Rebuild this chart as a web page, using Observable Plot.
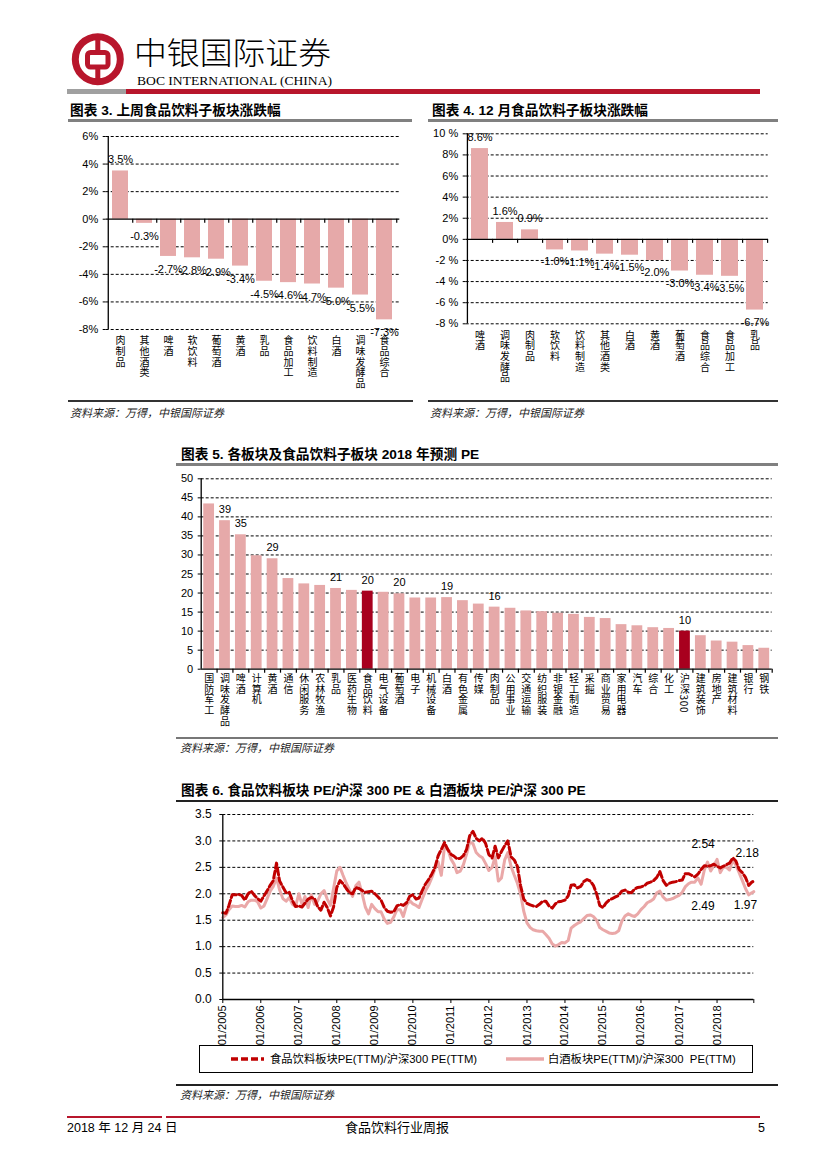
<!DOCTYPE html>
<html><head><meta charset="utf-8">
<script src="https://cdn.jsdelivr.net/npm/d3@7"></script>
<script src="https://cdn.jsdelivr.net/npm/@observablehq/plot@0.6"></script>
<style>
body{margin:0;background:#fff;}
#page{position:relative;width:827px;height:1169px;overflow:hidden;background:#fff;font-family:"Noto Sans CJK SC",sans-serif;color:#000;}
.abs{position:absolute;}
.title{font-family:"Liberation Sans","Noto Sans CJK SC",sans-serif;font-size:13.7px;font-weight:700;white-space:nowrap;line-height:17px;}
.src{font-family:"Noto Sans CJK SC",sans-serif;font-size:11px;font-style:italic;color:#222;white-space:nowrap;line-height:14px;}
.lg{font-family:"Liberation Sans Narrow","Liberation Sans","Noto Sans CJK SC",sans-serif;font-size:11.3px;white-space:nowrap;line-height:14px;}
.ft{font-family:"Liberation Sans","Noto Sans CJK SC",sans-serif;font-size:12.5px;white-space:nowrap;line-height:16px;}
</style></head>
<body>
<div id="page">
  <svg class="abs" style="left:0;top:0" width="827" height="100">
    <circle cx="97.8" cy="59.2" r="22.5" fill="none" stroke="#b8162c" stroke-width="7"/>
    <rect x="87.5" y="52.5" width="20.5" height="14.5" rx="3" fill="none" stroke="#b8162c" stroke-width="5"/>
    <rect x="95.3" y="36" width="5" height="17" fill="#b8162c"/>
    <rect x="95.3" y="66" width="5" height="17" fill="#b8162c"/>
    <text x="134" y="64" font-size="31" font-family="Noto Sans CJK SC" font-weight="300" textLength="197" lengthAdjust="spacingAndGlyphs">中银国际证券</text>
    <text x="137" y="85" font-size="13.5" font-family="Liberation Serif" textLength="195" lengthAdjust="spacingAndGlyphs">BOC INTERNATIONAL (CHINA)</text>
    <rect x="67" y="89" width="59" height="5" fill="#a0a0a0"/>
    <rect x="126" y="89" width="634" height="5" fill="#b8162c"/>
  </svg>

  <div class="abs title" style="left:70px;top:101.5px">图表 3. 上周食品饮料子板块涨跌幅</div>
  <div class="abs" style="left:68px;top:119px;width:344px;height:2.5px;background:#808080"></div>
  <div class="abs title" style="left:432px;top:101.5px">图表 4. 12 月食品饮料子板块涨跌幅</div>
  <div class="abs" style="left:428px;top:119px;width:350px;height:2.5px;background:#808080"></div>
  <div id="c3" class="abs" style="left:60px;top:125px"></div>
  <div id="c4" class="abs" style="left:420px;top:122px"></div>
  <div class="abs" style="left:68px;top:400px;width:345px;height:1.5px;background:#333"></div>
  <div class="abs" style="left:428px;top:400px;width:350px;height:1.5px;background:#333"></div>
  <div class="abs src" style="left:70px;top:405px">资料来源：万得，中银国际证券</div>
  <div class="abs src" style="left:430px;top:405px">资料来源：万得，中银国际证券</div>

  <div class="abs title" style="left:181px;top:445.5px">图表 5. 各板块及食品饮料子板块 2018 年预测 PE</div>
  <div class="abs" style="left:176px;top:463px;width:602px;height:2.5px;background:#808080"></div>
  <div id="c5" class="abs" style="left:176px;top:468px"></div>
  <div class="abs" style="left:176px;top:736.5px;width:602px;height:2px;background:#777"></div>
  <div class="abs src" style="left:180px;top:740px">资料来源：万得，中银国际证券</div>

  <div class="abs title" style="left:181px;top:781.5px">图表 6. 食品饮料板块 PE/沪深 300 PE &amp; 白酒板块 PE/沪深 300 PE</div>
  <div class="abs" style="left:176px;top:800px;width:602px;height:1.8px;background:#222"></div>
  <div id="c6" class="abs" style="left:176px;top:803px"></div>
  <div class="abs" style="left:199px;top:1045px;width:554px;height:28px;border:1px solid #000;box-sizing:border-box"></div>
  <svg class="abs" style="left:229px;top:1053px" width="40" height="12"><line x1="2" y1="6" x2="35" y2="6" stroke="#c00000" stroke-width="3.5" stroke-dasharray="7,3"/></svg>
  <div class="abs lg" style="left:270px;top:1052px">食品饮料板块PE(TTM)/沪深300 PE(TTM)</div>
  <svg class="abs" style="left:504px;top:1053px" width="44" height="12"><line x1="2" y1="6" x2="40" y2="6" stroke="#eaa8a8" stroke-width="3.5"/></svg>
  <div class="abs lg" style="left:548px;top:1052px">白酒板块PE(TTM)/沪深300&nbsp; PE(TTM)</div>
  <div class="abs" style="left:176px;top:1084px;width:602px;height:1.5px;background:#222"></div>
  <div class="abs src" style="left:180px;top:1087px">资料来源：万得，中银国际证券</div>

  <div class="abs" style="left:67px;top:1116px;width:95px;height:2px;background:#b8162c"></div>
  <div class="abs" style="left:166px;top:1116px;width:594px;height:2px;background:#b8162c"></div>
  <div class="abs ft" style="left:67px;top:1120px">2018 年 12 月 24 日</div>
  <div class="abs ft" style="left:397px;top:1120px;transform:translateX(-50%);font-size:13px">食品饮料行业周报</div>
  <div class="abs ft" style="left:758px;top:1120px">5</div>
</div>
<script>
// ---------- data ----------
// Chart 3: weekly change by sub-sector (%)
const weekCats = ["肉制品","其他酒类","啤酒","软饮料","葡萄酒","黄酒","乳品","食品加工","饮料制造","白酒","调味发酵品","食品综合"];
const weekVals = [3.5,-0.3,-2.7,-2.8,-2.9,-3.4,-4.5,-4.6,-4.7,-5.0,-5.5,-7.3];
const weekLabels = ["3.5%","-0.3%","-2.7%","-2.8%","-2.9%","-3.4%","-4.5%","-4.6%","-4.7%","-5.0%","-5.5%","-7.3%"];
const weekTicks = [6,4,2,0,-2,-4,-6,-8];
const weekTickLabels = ["6%","4%","2%","0%","-2%","-4%","-6%","-8%"];

// Chart 4: December change by sub-sector (%)
const decCats = ["啤酒","调味发酵品","肉制品","软饮料","饮料制造","其他酒类","白酒","黄酒","葡萄酒","食品综合","食品加工","乳品"];
const decVals = [8.6,1.6,0.9,-1.0,-1.1,-1.4,-1.5,-2.0,-3.0,-3.4,-3.5,-6.7];
const decLabels = ["8.6%","1.6%","0.9%","-1.0%","-1.1%","-1.4%","-1.5%","-2.0%","-3.0%","-3.4%","-3.5%","-6.7%"];
const decTicks = [10,8,6,4,2,0,-2,-4,-6,-8];
const decTickLabels = ["10 %","8%","6%","4%","2%","0%","-2 %","-4 %","-6 %","-8 %"];

// Chart 5: 2018E PE by sector
const peCats = ["国防军工","调味发酵品","啤酒","计算机","黄酒","通信","休闲服务","农林牧渔","乳品","医药生物","食品饮料","电气设备","葡萄酒","电子","机械设备","白酒","有色金属","传媒","肉制品","公用事业","交通运输","纺织服装","非银金融","轻工制造","采掘","商业贸易","家用电器","汽车","综合","化工","沪深300","建筑装饰","房地产","建筑材料","银行","钢铁"];
const peVals = [43.4,39.0,35.3,29.8,29.0,23.8,22.4,22.0,21.2,20.7,20.5,20.2,19.8,18.7,18.7,18.8,18.0,17.1,16.3,16.0,15.3,15.1,14.7,14.4,13.6,13.3,11.7,11.4,10.9,10.7,10.0,8.8,7.4,7.1,6.2,5.5];
const peLabels = ["","39","35","","29","","","","21","","20","","20","","","19","","","16","","","","","","","","","","","","10","","","","",""];
const peHighlight = ["食品饮料","沪深300"];
const peTicks = [0,5,10,15,20,25,30,35,40,45,50];

// Chart 6: relative PE, monthly readings from 2005-01, plus last point
const relStart = [2005, 0];
const relEndDate = "2018-12-20";
const foodRel = [
  1.64,1.63,1.78,1.98,1.98,1.99,1.97,1.88,2.00,2.05,1.97,1.91, // 2005
  1.86,1.96,2.05,2.16,2.25,2.58,2.24,2.13,2.02,2.03,1.87,1.76, // 2006
  1.77,1.75,1.82,1.90,1.93,1.91,1.76,1.69,1.84,1.74,1.58,1.75, // 2007
  2.12,2.25,2.19,2.10,2.02,2.00,2.12,2.10,2.06,2.03,2.04,2.05, // 2008
  2.00,1.94,1.88,1.74,1.67,1.65,1.66,1.77,1.80,1.78,1.83,1.95, // 2009
  1.98,1.90,1.92,2.06,2.18,2.27,2.37,2.50,2.72,2.84,2.97,2.84, // 2010
  2.75,2.71,2.66,2.67,2.72,2.84,3.10,3.18,3.05,3.00,3.05,2.95, // 2011
  2.74,2.68,2.90,2.68,2.80,2.91,3.00,2.70,2.64,2.52,2.15,1.90, // 2012
  1.82,1.79,1.77,1.76,1.80,1.86,1.86,1.77,1.73,1.81,1.85,1.86, // 2013
  1.88,1.96,2.16,2.17,2.11,2.14,2.23,2.27,2.24,2.16,2.00,1.78, // 2014
  1.74,1.83,1.88,1.91,1.94,1.97,2.05,2.07,2.03,2.02,2.09,2.12, // 2015
  2.13,2.15,2.20,2.22,2.25,2.31,2.42,2.25,2.16,2.20,2.22,2.23, // 2016
  2.25,2.26,2.38,2.38,2.35,2.32,2.37,2.46,2.53,2.52,2.53,2.56, // 2017
  2.52,2.49,2.52,2.55,2.58,2.68,2.62,2.46,2.40,2.31,2.16,2.22, // 2018
  2.24
];
const baijiuRel = [
  1.55,1.60,1.70,1.77,1.76,1.76,1.78,1.75,1.85,1.88,1.88,1.85, // 2005
  1.73,1.77,1.90,2.05,2.14,2.30,2.07,1.91,1.86,1.93,1.80,1.76, // 2006
  2.00,1.80,1.95,1.74,1.98,1.80,1.86,2.00,2.06,1.90,1.78,2.10, // 2007
  2.43,2.50,2.35,2.20,2.08,1.95,2.15,2.22,2.00,1.75,1.62,1.80, // 2008
  1.72,1.66,1.66,1.52,1.44,1.46,1.56,1.70,1.70,1.57,1.78,1.87, // 2009
  1.81,1.78,1.74,1.90,2.05,2.16,2.30,2.47,2.60,2.35,2.90,2.85, // 2010
  2.66,2.56,2.40,2.43,2.55,2.75,2.98,2.95,2.78,2.72,2.68,2.57, // 2011
  2.44,2.50,2.70,2.24,2.30,2.64,2.78,2.52,2.35,2.20,1.99,1.67, // 2012
  1.45,1.36,1.32,1.30,1.29,1.29,1.23,1.16,1.05,1.01,1.04,1.08, // 2013
  1.07,1.12,1.35,1.40,1.44,1.47,1.53,1.59,1.60,1.57,1.50,1.36, // 2014
  1.32,1.29,1.26,1.25,1.26,1.30,1.48,1.58,1.62,1.59,1.57,1.62, // 2015
  1.70,1.76,1.83,1.86,1.90,2.02,2.05,1.94,1.88,1.89,1.91,1.94, // 2016
  1.97,2.03,2.13,2.19,2.22,2.22,2.30,2.18,2.45,2.60,2.43,2.53, // 2017
  2.65,2.40,2.50,2.50,2.45,2.64,2.54,2.40,2.25,2.10,1.98,2.02, // 2018
  2.04
];
const relTicks = [0,0.5,1,1.5,2,2.5,3,3.5];
const relTickLabels = ["0.0","0.5","1.0","1.5","2.0","2.5","3.0","3.5"];
const relYears = [2005,2006,2007,2008,2009,2010,2011,2012,2013,2014,2015,2016,2017,2018];
const annoText = ["2.54","2.18","2.49","1.97"];
const annoDate = ["2017-08-20","2018-10-17","2017-08-19","2018-10-01"];
const annoY = [2.93,2.76,1.76,1.79];

// ---------- styles ----------
const PINK = "#e6a9a9", DARK = "#a8001e", RED = "#c00000", PINKLINE = "#eaa8a8";
const numFont = '"Liberation Sans Narrow","Liberation Sans",Arial,sans-serif';
const cjkFont = '"Noto Sans CJK SC",sans-serif';

function verticalize(svg, spacing) {
  d3.select(svg).selectAll('g[aria-description="vlabel"] text')
    .attr("dy", null)
    .attr("text-anchor", "start")
    .style("writing-mode", "vertical-rl")
    .style("text-orientation", "mixed")
    .style("letter-spacing", spacing + "px");
}

function barChart(cfg) {
  const {cats, vals, labels, highlight = [], ticks, tickLabels, domain, width, height, ml, mr, mt, mb, posDy, negDy, labDy, mount} = cfg;
  const step = (width - ml - mr) / cats.length;
  const tickLen = 4 * (domain[1] - domain[0]) / (height - mt - mb);
  const data = cats.map((c, i) => ({c, v: vals[i], lab: labels[i], hi: highlight.includes(c)}));
  const fmt = d => tickLabels[ticks.indexOf(d)];
  const svg = Plot.plot({
    width, height, marginLeft: ml, marginRight: mr, marginTop: mt, marginBottom: mb,
    style: {background: "transparent", fontFamily: numFont, fontSize: "11px", color: "#000", overflow: "visible"},
    x: {domain: cats, paddingInner: 0.32, paddingOuter: 0.16, axis: null},
    y: {domain},
    marks: [
      Plot.ruleY(ticks.filter(t => t !== 0), {stroke: "#000", strokeWidth: 1, strokeDasharray: "3,2"}),
      Plot.barY(data.filter(d => !d.hi), {x: "c", y: "v", fill: PINK}),
      Plot.barY(data.filter(d => d.hi), {x: "c", y: "v", fill: DARK}),
      Plot.ruleY([0], {stroke: "#000", strokeWidth: 1.3}),
      Plot.ruleX([cats[0]], {dx: -step / 2, y1: domain[0], y2: domain[1], stroke: "#000", strokeWidth: 1.3}),
      Plot.ruleX(cats, {dx: step / 2, y1: 0, y2: -tickLen, stroke: "#000", strokeWidth: 1.2}),
      Plot.axisY({ticks, tickFormat: fmt, tickSize: 3, tickPadding: 5, label: null, fontSize: 11}),
      Plot.text(data.filter(d => d.lab && d.v >= 0), {x: "c", y: "v", text: "lab", dy: posDy, fontSize: 11}),
      Plot.text(data.filter(d => d.lab && d.v < 0), {x: "c", y: "v", text: "lab", dy: negDy, fontSize: 11}),
      Plot.text(cats, {x: d => d, frameAnchor: "bottom", dy: labDy, text: d => d, textAnchor: "start",
        fontFamily: cjkFont, fontSize: 10, ariaDescription: "vlabel"})
    ]
  });
  verticalize(svg, 0.7);
  document.getElementById(mount).appendChild(svg);
}

barChart({cats: weekCats, vals: weekVals, labels: weekLabels, ticks: weekTicks, tickLabels: weekTickLabels,
  domain: [-8, 6], width: 352, height: 270, ml: 45.7, mr: 12.7, mt: 11, mb: 66, posDy: -11, negDy: 13, labDy: 6, mount: "c3"});
barChart({cats: decCats, vals: decVals, labels: decLabels, ticks: decTicks, tickLabels: decTickLabels,
  domain: [-8, 10], width: 358, height: 273, ml: 45.7, mr: 10.3, mt: 11.3, mb: 71.7, posDy: -11, negDy: 12, labDy: 6, mount: "c4"});
barChart({cats: peCats, vals: peVals, labels: peLabels, highlight: peHighlight, ticks: peTicks, tickLabels: peTicks.map(String),
  domain: [0, 50], width: 604, height: 272, ml: 24.7, mr: 8.3, mt: 10.3, mb: 71.3, posDy: -11, negDy: 12, labDy: 4, mount: "c5"});

// ---------- chart 6 ----------
const relDates = foodRel.map((_, i) => i < foodRel.length - 1 ? new Date(Date.UTC(relStart[0], relStart[1] + i, 1)) : new Date(relEndDate));
const rel = relDates.map((d, i) => ({date: d, food: foodRel[i], baijiu: baijiuRel[i]}));
const x0 = new Date(Date.UTC(relStart[0], relStart[1], 1)), x1 = new Date(relEndDate);
const annos = annoText.map((t, i) => ({t, date: new Date(annoDate[i]), y: annoY[i]}));
const W6 = 604, H6 = 240, mt6 = 11, mb6 = 44;
const tick6 = 4 * 3.5 / (H6 - mt6 - mb6);
const svg6 = Plot.plot({
  width: W6, height: H6, marginLeft: 46.3, marginRight: 26.7, marginTop: mt6, marginBottom: mb6,
  style: {background: "transparent", fontFamily: numFont, fontSize: "12px", color: "#000", overflow: "visible"},
  x: {type: "utc", domain: [x0, x1]},
  y: {domain: [0, 3.5]},
  marks: [
    Plot.ruleY(relTicks.filter(t => t > 0), {stroke: "#000", strokeWidth: 1, strokeDasharray: "3,2"}),
    Plot.lineY(rel, {x: "date", y: "baijiu", stroke: PINKLINE, strokeWidth: 3}),
    Plot.lineY(rel, {x: "date", y: "food", stroke: RED, strokeWidth: 3, strokeDasharray: "7,3"}),
    Plot.ruleY([0], {stroke: "#000", strokeWidth: 1.3}),
    Plot.ruleX([x0], {stroke: "#000", strokeWidth: 1.3}),
    Plot.ruleX([x1], {y1: 0, y2: -tick6, stroke: "#000"}),
    Plot.axisY({ticks: relTicks, tickFormat: d => relTickLabels[relTicks.indexOf(d)], tickSize: 3, tickPadding: 8, label: null, fontSize: 12}),
    Plot.axisX({ticks: relYears.map(y => new Date(Date.UTC(y, 0, 1))), tickFormat: d3.utcFormat("%m/%Y"),
      tickRotate: -90, tickSize: 4, tickPadding: 2, label: null, fontSize: 11}),
    Plot.text(annos, {x: "date", y: "y", text: "t", fontSize: 12})
  ]
});
document.getElementById("c6").appendChild(svg6);
</script>
</body></html>
